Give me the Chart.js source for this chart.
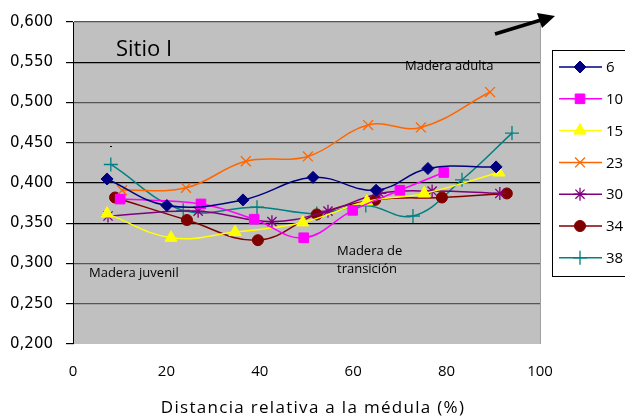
<!DOCTYPE html>
<html>
<head>
<meta charset="utf-8">
<script src="https://cdn.jsdelivr.net/npm/chart.js@4/dist/chart.umd.min.js"></script>
<style>
  html,body{margin:0;padding:0;background:#fff;}
  #wrap{width:625px;height:420px;position:relative;}
</style>
</head>
<body>
<div id="wrap"><canvas id="c" width="625" height="420"></canvas></div>
<script>
// ---- data ----
const seriesNames = ["6", "10", "15", "23", "30", "34", "38"];
const s6x  = [7.3, 20.1, 36.4, 51.4, 64.9, 76.0, 90.6];
const s6y  = [0.405, 0.372, 0.379, 0.407, 0.391, 0.418, 0.420];
const s10x = [10.1, 27.4, 38.8, 49.4, 59.9, 70.0, 79.4];
const s10y = [0.380, 0.374, 0.355, 0.332, 0.366, 0.391, 0.413];
const s15x = [7.3, 21.0, 34.7, 49.2, 62.9, 75.2, 91.2];
const s15y = [0.362, 0.332, 0.339, 0.351, 0.377, 0.387, 0.413];
const s23x = [10.5, 24.2, 37.0, 50.3, 63.2, 74.5, 89.3];
const s23y = [0.391, 0.394, 0.427, 0.433, 0.472, 0.469, 0.513];
const s30x = [7.5, 26.8, 42.6, 54.6, 65.7, 76.9, 91.4];
const s30y = [0.359, 0.365, 0.352, 0.365, 0.387, 0.390, 0.387];
const s34x = [9.0, 24.4, 39.6, 52.2, 64.7, 79.0, 92.9];
const s34y = [0.382, 0.354, 0.329, 0.361, 0.379, 0.382, 0.387];
const s38x = [8.1, 23.6, 39.4, 52.2, 62.7, 72.8, 83.3, 94.0];
const s38y = [0.423, 0.366, 0.370, 0.362, 0.372, 0.359, 0.404, 0.462];
const yTickValues = [0.2, 0.25, 0.3, 0.35, 0.4, 0.45, 0.5, 0.55, 0.6];
const xTickValues = [0, 20, 40, 60, 80, 100];
const xAxisTitle = 'Distancia relativa a la médula (%)';

const xs = [s6x, s10x, s15x, s23x, s30x, s34x, s38x];
const ys = [s6y, s10y, s15y, s23y, s30y, s34y, s38y];
const colors = ["#000080", "#FF00FF", "#FFFF00", "#FF6600", "#800080", "#800000", "#008080"];
const pstyles = ["rectRot", "rect", "triangle", "crossRot", "star", "circle", "cross"];
const pradius = [6, 6.8, 7, 7, 6.5, 5.5, 7];

const datasets = seriesNames.map((n, i) => ({
  label: n,
  data: xs[i].map((x, j) => ({x: x, y: ys[i][j]})),
  showLine: true,
  borderColor: colors[i],
  backgroundColor: colors[i],
  borderWidth: 1.5,
  tension: 0.4,
  pointStyle: pstyles[i],
  pointRadius: pradius[i],
  pointBorderWidth: (pstyles[i] === 'crossRot' || pstyles[i] === 'star' || pstyles[i] === 'cross') ? 1.3 : 1,
  pointBackgroundColor: colors[i],
  pointBorderColor: colors[i]
}));

const bgPlugin = {
  id: 'bg',
  beforeDraw(chart) {
    const {ctx, chartArea: a} = chart;
    ctx.save();
    ctx.fillStyle = '#c0c0c0';
    ctx.fillRect(a.left, a.top, a.right - a.left, a.bottom - a.top);
    ctx.strokeStyle = '#a0a0a0';
    ctx.lineWidth = 1;
    ctx.beginPath();
    ctx.moveTo(a.right + 0.5, a.top);
    ctx.lineTo(a.right + 0.5, a.bottom);
    ctx.stroke();
    ctx.restore();
  },
  afterDraw(chart) {
    const {ctx, chartArea: a} = chart;
    ctx.save();
    // x axis title
    ctx.fillStyle = '#000';
    ctx.textAlign = 'center';
    ctx.textBaseline = 'middle';
    ctx.font = '17px "Open Sans"';
    ctx.letterSpacing = '1.3px';
    ctx.fillText(xAxisTitle, 313, 408);
    ctx.letterSpacing = '0px';
    // annotations
    ctx.textBaseline = 'alphabetic';
    ctx.textAlign = 'left';
    ctx.font = '22px "Open Sans"';
    ctx.fillText('Sitio I', 116, 56);
    ctx.font = '13px "Open Sans"';
    ctx.fillText('Madera adulta', 405, 70);
    ctx.fillText('Madera juvenil', 89, 277);
    ctx.fillText('Madera de', 337, 255);
    ctx.fillText('transición', 337, 273);
    ctx.fillRect(110, 146, 2, 1);
    // arrow
    ctx.strokeStyle = '#000';
    ctx.fillStyle = '#000';
    ctx.lineWidth = 3.5;
    ctx.beginPath();
    ctx.moveTo(495, 34);
    ctx.lineTo(541, 20);
    ctx.stroke();
    ctx.beginPath();
    ctx.moveTo(555, 16);
    ctx.lineTo(537, 13);
    ctx.lineTo(542, 28);
    ctx.closePath();
    ctx.fill();
    // legend
    ctx.fillStyle = '#fff';
    ctx.fillRect(552, 50, 80, 227);
    ctx.strokeStyle = '#000';
    ctx.lineWidth = 1;
    ctx.strokeRect(552.5, 50.5, 80, 226);
    ctx.font = '15px "Open Sans"';
    ctx.textBaseline = 'middle';
    chart.data.datasets.forEach((ds, i) => {
      const y = 67 + i * 31.8;
      ctx.strokeStyle = ds.borderColor;
      ctx.lineWidth = 1.5;
      ctx.beginPath();
      ctx.moveTo(559, y);
      ctx.lineTo(602, y);
      ctx.stroke();
      ctx.fillStyle = ds.pointBackgroundColor;
      ctx.strokeStyle = ds.pointBorderColor;
      ctx.lineWidth = ds.pointBorderWidth;
      Chart.helpers.drawPoint(ctx, {pointStyle: ds.pointStyle, radius: ds.pointRadius, rotation: 0, borderWidth: ds.pointBorderWidth}, 580, y);
      ctx.fillStyle = '#000';
      ctx.fillText(ds.label, 606, y + 1);
    });
    ctx.restore();
  }
};

const gridColor = (ctx) => {
  const v = ctx.tick ? Math.round(ctx.tick.value * 1000) : 0;
  if (v === 550 || v === 400 || v === 350) return '#000';
  if (v === 200) return 'rgba(0,0,0,0)';
  return '#555';
};

new Chart(document.getElementById('c'), {
  type: 'scatter',
  data: {datasets: datasets},
  plugins: [bgPlugin],
  options: {
    responsive: false,
    animation: false,
    layout: {padding: {top: 16, right: 85, left: 0, bottom: 0}},
    plugins: {legend: {display: false}, tooltip: {enabled: false}},
    scales: {
      x: {
        type: 'linear', min: 0, max: 100,
        afterBuildTicks: (s) => { s.ticks = xTickValues.map(v => ({value: v})); },
        afterFit: (s) => { s.height = 76; },
        grid: {display: false, drawTicks: false},
        border: {display: false},
        ticks: {color: '#000', font: {family: '"Open Sans"', size: 15}, padding: 19, maxRotation: 0},
        title: {display: false}
      },
      y: {
        type: 'linear', min: 0.2, max: 0.6,
        afterBuildTicks: (s) => { s.ticks = yTickValues.map(v => ({value: v})); },
        afterFit: (s) => { s.width = 73; },
        grid: {color: gridColor, lineWidth: 1.2, drawTicks: true, tickLength: 7, tickColor: '#000'},
        border: {display: true, color: '#000', width: 1},
        ticks: {color: '#000', font: {family: '"DejaVu Sans"', size: 15}, padding: 13,
                callback: (v) => v.toFixed(3).replace('.', ',')}
      }
    }
  }
});
</script>
</body>
</html>
